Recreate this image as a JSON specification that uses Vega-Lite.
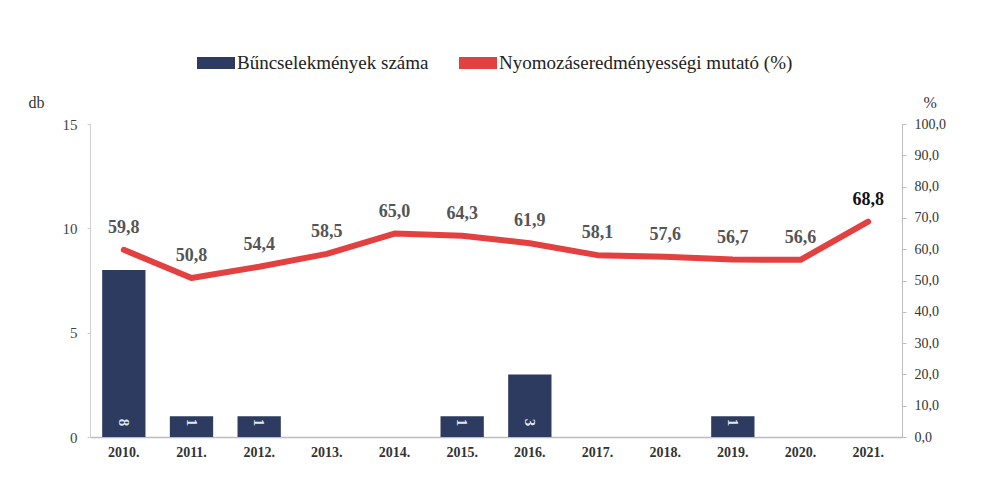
{
  "$schema": "https://vega.github.io/schema/vega-lite/v6.json",
  "width": 812,
  "height": 313,
  "autosize": "none",
  "padding": {"left": 90, "top": 124, "right": 82, "bottom": 52},
  "background": "white",
  "config": {
    "font": "Liberation Serif",
    "view": {"stroke": null},
    "locale": {
      "number": {"decimal": ",", "thousands": " ", "grouping": [3], "currency": ["", " Ft"]}
    }
  },
  "data": {
    "values": [
      {"year": "2010.", "db": 8, "pct": 59.8},
      {"year": "2011.", "db": 1, "pct": 50.8},
      {"year": "2012.", "db": 1, "pct": 54.4},
      {"year": "2013.", "db": 0, "pct": 58.5},
      {"year": "2014.", "db": 0, "pct": 65.0},
      {"year": "2015.", "db": 1, "pct": 64.3},
      {"year": "2016.", "db": 3, "pct": 61.9},
      {"year": "2017.", "db": 0, "pct": 58.1},
      {"year": "2018.", "db": 0, "pct": 57.6},
      {"year": "2019.", "db": 1, "pct": 56.7},
      {"year": "2020.", "db": 0, "pct": 56.6},
      {"year": "2021.", "db": 0, "pct": 68.8}
    ]
  },
  "encoding": {
    "x": {
      "field": "year",
      "type": "nominal",
      "sort": null,
      "scale": {"paddingInner": 0.36, "paddingOuter": 0.18},
      "axis": {
        "title": null,
        "labelAngle": 0,
        "labelFont": "Liberation Serif",
        "labelFontWeight": "bold",
        "labelFontSize": 14,
        "labelColor": "#333333",
        "labelPadding": 8,
        "ticks": false,
        "domainColor": "#bdbdbd",
        "domainWidth": 1.5
      }
    }
  },
  "layer": [
    {
      "layer": [
        {
          "mark": {"type": "bar", "color": "#2c3b5f"},
          "encoding": {
            "y": {
              "field": "db",
              "type": "quantitative",
              "scale": {"domain": [0, 15], "nice": false},
              "axis": {
                "title": "db",
                "titleAngle": 0,
                "titleX": -62,
                "titleY": -14,
                "titleAlign": "left",
                "titleFontWeight": "normal",
                "titleFontSize": 16,
                "titleColor": "#333333",
                "values": [0, 5, 10, 15],
                "grid": false,
                "labelFontSize": 15,
                "labelColor": "#444444",
                "labelPadding": 10,
                "tickSize": 3,
                "tickColor": "#cccccc",
                "domainColor": "#cfcfcf"
              }
            },
            "color": {
              "datum": "Bűncselekmények száma",
              "type": "nominal",
              "scale": {
                "domain": ["Bűncselekmények száma", "Nyomozáseredményességi mutató (%)"],
                "range": ["#2c3b5f", "#e2413f"]
              },
              "legend": {
                "title": null,
                "orient": "none",
                "direction": "horizontal",
                "legendX": 107,
                "legendY": -80,
                "symbolType": "M-1,-0.32H1V0.32H-1Z",
                "symbolSize": 1444,
                "symbolStrokeWidth": 0,
                "labelFont": "Liberation Serif",
                "labelFontSize": 19,
                "labelColor": "#222222",
                "labelOffset": 2,
                "columnPadding": 30,
                "labelLimit": 400,
                "encode": {
                  "symbols": {
                    "update": {
                      "fill": {"scale": "color", "field": "value"},
                      "stroke": {"value": "transparent"}
                    }
                  }
                }
              }
            }
          }
        },
        {
          "transform": [{"filter": "datum.db > 0"}],
          "mark": {
            "type": "text",
            "angle": 90,
            "color": "#dfe8f5",
            "fontWeight": "bold",
            "fontSize": 15,
            "font": "Liberation Serif",
            "align": "center",
            "baseline": "middle"
          },
          "encoding": {
            "y": {"datum": 0.7, "type": "quantitative"},
            "text": {"field": "db", "type": "quantitative"}
          }
        }
      ]
    },
    {
      "encoding": {
        "y": {
          "field": "pct",
          "type": "quantitative",
          "scale": {"domain": [0, 100], "nice": false},
          "axis": {
            "orient": "right",
            "title": "%",
            "titleAngle": 0,
            "titleX": 21,
            "titleY": -14,
            "titleAlign": "left",
            "titleFontWeight": "normal",
            "titleFontSize": 16,
            "titleColor": "#333333",
            "values": [0, 10, 20, 30, 40, 50, 60, 70, 80, 90, 100],
            "format": ".1f",
            "labelOverlap": false,
            "grid": false,
            "labelFontSize": 14,
            "labelColor": "#333333",
            "labelPadding": 8,
            "tickSize": 4,
            "tickColor": "#bbbbbb",
            "domainColor": "#bdbdbd"
          }
        }
      },
      "layer": [
        {
          "mark": {
            "type": "line",
            "strokeWidth": 6,
            "strokeCap": "round",
            "strokeJoin": "round"
          },
          "encoding": {
            "color": {"datum": "Nyomozáseredményességi mutató (%)", "type": "nominal"}
          }
        },
        {
          "mark": {
            "type": "text",
            "dy": -22,
            "fontWeight": "bold",
            "fontSize": 18,
            "font": "Liberation Serif",
            "align": "center",
            "baseline": "middle"
          },
          "encoding": {
            "text": {"field": "pct", "type": "quantitative", "format": ".1f"},
            "color": {
              "condition": {"test": "datum.year === '2021.'", "value": "#111111"},
              "value": "#555555"
            }
          }
        }
      ]
    }
  ],
  "resolve": {"scale": {"y": "independent"}}
}
